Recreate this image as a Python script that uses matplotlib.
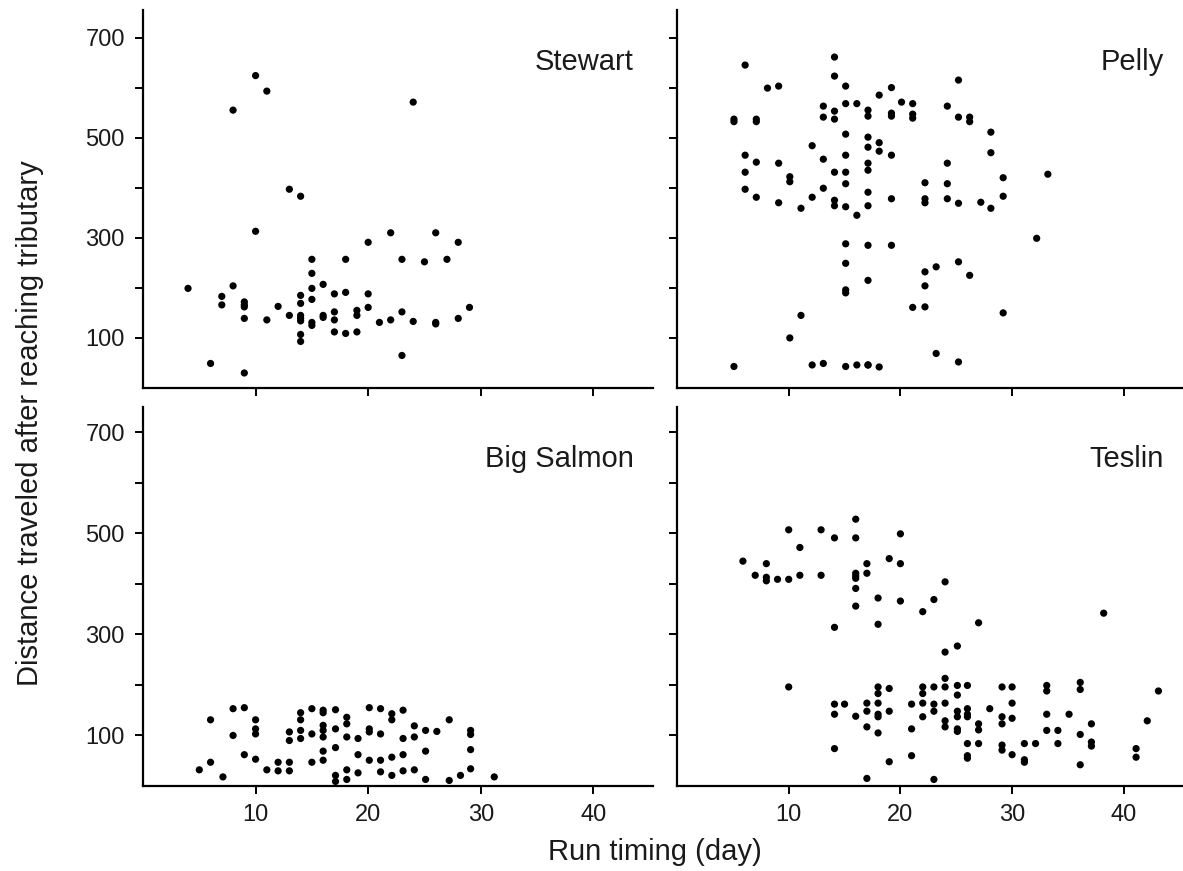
import matplotlib
matplotlib.use("Agg")
import matplotlib.pyplot as plt

plt.rcParams['font.family'] = ['Liberation Sans', 'DejaVu Sans']

# Stewart
stewart_x = [4, 8, 10, 11, 24, 13, 14, 10, 22, 26, 20, 28, 15, 18, 23, 25, 27,
             15, 16, 8, 15, 7, 7, 9, 9, 9, 9, 11, 12, 13, 14, 14, 14, 14, 14, 14, 14,
             15, 15, 15, 16, 16, 17, 17, 17, 17, 18, 18, 19, 19, 19, 20, 20, 21, 22,
             23, 23, 24, 26, 26, 28, 29, 6, 9]
stewart_y = [199, 555, 624, 593, 571, 397, 383, 313, 310, 310, 291, 291, 257, 257, 257, 252, 257,
             229, 207, 204, 199, 183, 166, 172, 166, 162, 139, 136, 163, 145, 185, 169, 145, 139, 134, 107, 93,
             177, 131, 125, 145, 141, 188, 152, 136, 112, 191, 109, 155, 145, 112, 188, 161, 131, 136,
             152, 65, 133, 131, 128, 139, 161, 49, 30]

# Pelly
pelly_x = [5.1, 5.1, 5.1, 6.1, 6.1, 6.1, 6.1, 7.1, 7.1, 7.1, 7.1, 8.1, 9.1, 9.1, 9.1,
           10.1, 10.1, 10.1, 11.1, 11.1, 12.1, 12.1, 12.1, 13.1, 13.1, 13.1, 13.1, 13.1,
           14.1, 14.1, 14.1, 14.1, 14.1, 14.1, 14.1,
           15.1, 15.1, 15.1, 15.1, 15.1, 15.1, 15.1, 15.1, 15.1, 15.1, 15.1, 15.1,
           16.1, 16.1, 16.1,
           17.1, 17.1, 17.1, 17.1, 17.1, 17.1, 17.1, 17.1, 17.1, 17.1, 17.1, 17.1,
           18.1, 18.1, 18.1, 18.1,
           19.2, 19.2, 19.2, 19.2, 19.2, 19.2, 20.1, 21.1, 21.1, 21.1, 21.1,
           22.2, 22.2, 22.2, 22.2, 22.2, 22.2, 23.2, 23.2,
           24.2, 24.2, 24.2, 24.2, 25.2, 25.2, 25.2, 25.2, 25.2,
           26.2, 26.2, 26.2, 27.2, 28.1, 28.1, 28.1, 29.2, 29.2, 29.2, 32.2, 33.2]
pelly_y = [43, 537, 532, 645, 465, 431, 397, 537, 532, 451, 381, 599, 603, 449, 370,
           422, 412, 100, 359, 145, 484, 381, 46, 563, 541, 457, 399, 49,
           661, 623, 553, 537, 431, 375, 364,
           603, 568, 507, 465, 431, 408, 362, 288, 249, 196, 190, 43,
           568, 345, 46,
           555, 543, 501, 481, 449, 435, 391, 364, 285, 215, 46, 46,
           585, 490, 473, 42,
           600, 549, 543, 465, 378, 285, 571, 568, 547, 539, 161,
           410, 378, 370, 232, 204, 162, 242, 69,
           563, 449, 408, 378, 615, 541, 369, 252, 52,
           541, 532, 225, 371, 511, 470, 359, 420, 383, 150, 299, 427]

# Big Salmon
bigsalmon_x = [5, 6, 6, 7.1, 8, 8, 9, 9, 10, 10, 10, 10, 11, 12, 12, 13, 13, 13, 13,
               14, 14, 14, 14, 15, 15, 15, 16, 16, 16, 16, 16, 16, 16,
               17.1, 17.1, 17.1, 17.1, 17.1, 18.1, 18.1, 18.1, 18.1, 18.1,
               19.1, 19.1, 19.1, 20.1, 20.1, 20.1, 20.1, 21.1, 21.1, 21.1, 21.1,
               22.1, 22.1, 22.1, 22.1, 23.1, 23.1, 23.1, 23.1, 24.1, 24.1, 24.1,
               25.1, 25.1, 25.1, 26.1, 27.2, 27.2, 28.2, 29.1, 29.1, 29.1, 29.1, 31.2]
bigsalmon_y = [32, 131, 47, 18, 153, 100, 155, 62, 131, 113, 103, 53, 32, 47, 30, 107, 90, 47, 30,
               145, 131, 110, 94, 153, 103, 47, 150, 145, 120, 110, 97, 69, 51,
               151, 113, 76, 21, 9, 136, 123, 97, 32, 13,
               94, 62, 26, 155, 113, 107, 51, 153, 103, 51, 28,
               143, 131, 57, 21, 150, 94, 62, 30, 119, 97, 32,
               110, 69, 13, 108, 131, 11, 21, 110, 102, 72, 34, 18]

# Teslin
teslin_x = [5.9, 7, 8, 8, 8, 9, 10, 10, 10, 11, 11, 12.9, 12.9,
            14.1, 14.1, 14.1, 14.1, 14.1, 15,
            16, 16, 16, 16, 16, 16, 16, 16,
            17, 17, 17, 17, 17, 17,
            18, 18, 18, 18, 18, 18, 18, 18,
            19, 19, 19, 19, 20, 20, 20, 21, 21, 21,
            22, 22, 22, 22, 22, 23, 23, 23, 23, 23,
            24, 24, 24, 24, 24, 24, 24,
            25.1, 25.1, 25.1, 25.1, 25.1, 25.1, 25.1,
            26, 26, 26, 26, 26, 26, 26,
            27, 27, 27, 27, 28, 29.1, 29.1, 29.1, 29.1, 29.1,
            30, 30, 30, 30, 31.1, 31.1, 31.1, 32.1,
            33.1, 33.1, 33.1, 33.1, 34.1, 34.1, 35.1,
            36.1, 36.1, 36.1, 36.1, 37.1, 37.1, 37.1, 38.2, 41.1, 41.1, 42.1, 43.1]
teslin_y = [445, 417, 440, 413, 406, 409, 409, 507, 196, 472, 417, 507, 417,
            491, 314, 162, 142, 74, 162,
            528, 491, 421, 416, 411, 391, 356, 138,
            440, 421, 164, 148, 117, 15,
            372, 320, 196, 183, 164, 142, 137, 105,
            450, 193, 148, 48, 499, 440, 366, 162, 113, 60,
            345, 196, 183, 164, 137, 369, 196, 162, 148, 13,
            404, 265, 213, 196, 164, 129, 117,
            277, 199, 180, 148, 137, 113, 108,
            199, 153, 142, 137, 84, 60, 55,
            323, 123, 111, 84, 153, 196, 137, 123, 81, 71,
            196, 164, 134, 62, 84, 52, 47, 84,
            199, 188, 142, 110, 110, 84, 142,
            205, 191, 102, 42, 123, 87, 79, 342, 74, 57, 129, 188]

names = ['Stewart', 'Pelly', 'Big Salmon', 'Teslin']
xs = [stewart_x, pelly_x, bigsalmon_x, teslin_x]
ys = [stewart_y, pelly_y, bigsalmon_y, teslin_y]

W, H = 1183, 871
fig = plt.figure(figsize=(W / 100, H / 100), dpi=100)

# left, top, right, bottom in pixels
boxes = [(143, 10, 653, 388), (677, 10, 1183, 388),
         (143, 407, 653, 786), (677, 407, 1183, 786)]
ylims = [755, 755, 750, 750]
txt = '#1a1a1a'

for i in range(4):
    l, t, r, b = boxes[i]
    ax = fig.add_axes([l / W, (H - b) / H, (r - l) / W, (b - t) / H])
    ax.scatter(xs[i], ys[i], s=27, c='black', edgecolors='none', zorder=3)
    ax.set_xlim(0, 45.3)
    ax.set_ylim(0, ylims[i])
    for side in ['top', 'right']:
        ax.spines[side].set_visible(False)
    for side in ['left', 'bottom']:
        ax.spines[side].set_linewidth(1.6)
        ax.spines[side].set_color('black')
    ax.set_xticks([10, 20, 30, 40])
    ax.set_yticks([100, 200, 300, 400, 500, 600, 700])
    if i % 2 == 0:
        ax.set_yticklabels(['100', '', '300', '', '500', '', '700'])
    else:
        ax.set_yticklabels([])
    if i < 2:
        ax.set_xticklabels([])
    ax.tick_params(direction='out', length=6, width=1.4, labelsize=17,
                   labelcolor=txt, pad=7)
    ax.text(0.962, 0.862, names[i], transform=ax.transAxes, ha='right', va='center',
            fontsize=21, color=txt)

fig.text(30 / W, 1 - 423 / H, 'Distance traveled after reaching tributary',
         rotation=90, ha='center', va='center', fontsize=21, color=txt)
fig.text(655 / W, 1 - 852 / H, 'Run timing (day)', ha='center', va='center',
         fontsize=21, color=txt)

fig.savefig('out.png', dpi=100)
